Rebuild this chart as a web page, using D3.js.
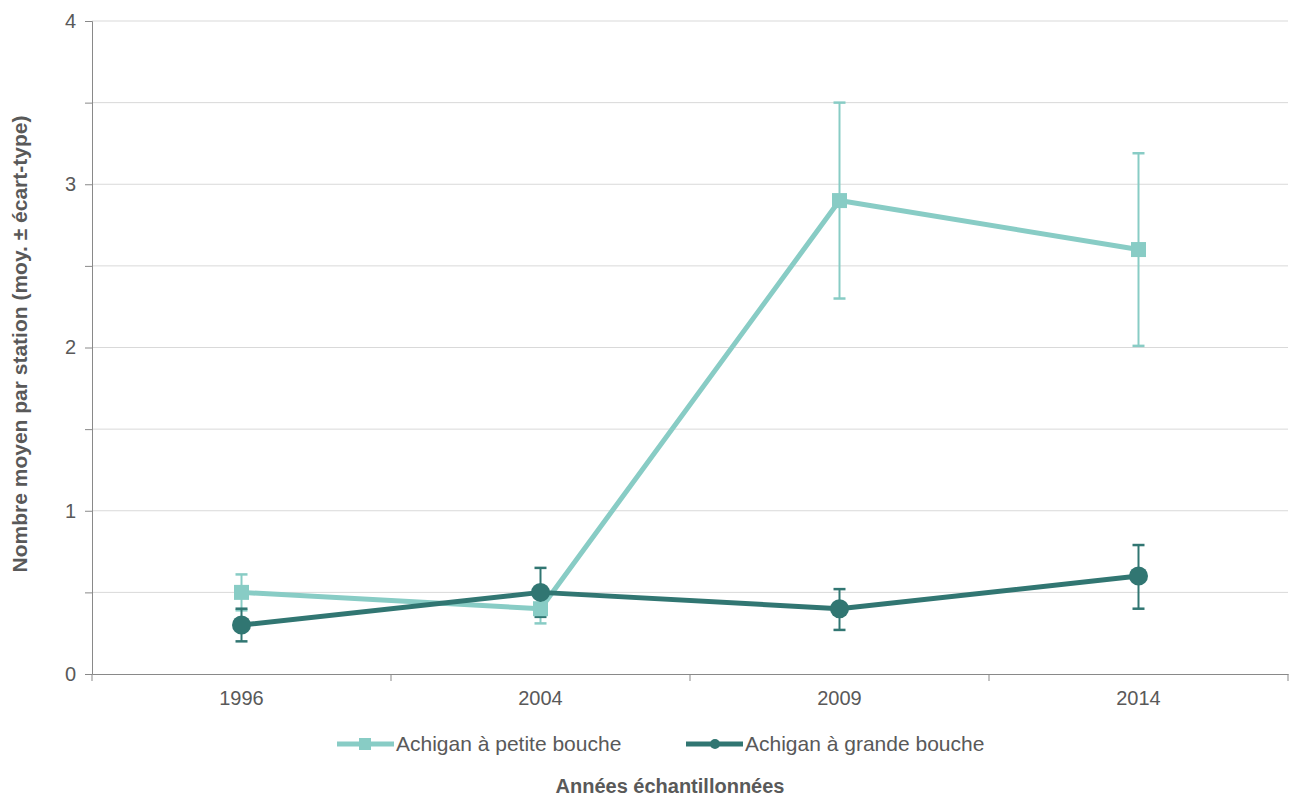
<!DOCTYPE html>
<html>
<head>
<meta charset="utf-8">
<script src="https://cdn.jsdelivr.net/npm/d3@7"></script>
<style>
  body { margin: 0; background: #fff; }
  svg { font-family: "Liberation Sans", Arial, sans-serif; }
</style>
</head>
<body>
<svg id="chart" width="1290" height="796"></svg>
<script>
// data
var years = ["1996", "2004", "2009", "2014"]
var smallMean = [0.5, 0.4, 2.9, 2.6]
var smallLow = [0.39, 0.31, 2.3, 2.01]
var smallHigh = [0.61, 0.49, 3.5, 3.19]
var largeMean = [0.3, 0.5, 0.4, 0.6]
var largeLow = [0.2, 0.35, 0.27, 0.4]
var largeHigh = [0.4, 0.65, 0.52, 0.79]
var yTicks = [0, 1, 2, 3, 4]
var gridTicks = [0.5, 1, 1.5, 2, 2.5, 3, 3.5, 4]

var lightColor = "#88ccc5"
var darkColor = "#317672"
var textColor = "#595959"

var svg = d3.select("#chart")
var plotLeft = 92, plotRight = 1288, plotTop = 21, plotBottom = 674

var x = d3.scaleBand().domain(years).range([plotLeft, plotRight])
var y = d3.scaleLinear().domain([0, 4]).range([plotBottom, plotTop])
var cx = function (d) { return x(d) + x.bandwidth() / 2 }

// gridlines
svg.append("g").selectAll("line").data(gridTicks).enter().append("line")
    .attr("x1", plotLeft).attr("x2", plotRight)
    .attr("y1", d => y(d)).attr("y2", d => y(d))
    .attr("stroke", "#d9d9d9").attr("stroke-width", 1)

// y axis
var yAxis = svg.append("g").attr("transform", "translate(" + plotLeft + ",0)")
    .call(d3.axisLeft(y).tickValues(d3.range(0, 4.01, 0.5)).tickSize(7)
        .tickFormat(d => yTicks.includes(d) ? d : ""))
yAxis.select(".domain").attr("stroke", "#898989")
yAxis.selectAll(".tick line").attr("stroke", "#898989")
yAxis.selectAll(".tick text").attr("fill", textColor).style("font-size", "20px").attr("dx", "-6")

// x axis
var xAxis = svg.append("g").attr("transform", "translate(0," + plotBottom + ")")
    .call(d3.axisBottom(x).tickSize(0).tickPadding(17))
xAxis.select(".domain").attr("stroke", "#898989")
xAxis.selectAll(".tick text").attr("fill", textColor).style("font-size", "20px")
// boundary ticks between categories
svg.append("g").selectAll("line").data(d3.range(years.length + 1)).enter().append("line")
    .attr("x1", i => plotLeft + i * x.step()).attr("x2", i => plotLeft + i * x.step())
    .attr("y1", plotBottom).attr("y2", plotBottom + 7)
    .attr("stroke", "#898989")

function drawErrors(low, high, color) {
    var g = svg.append("g")
    years.forEach(function (yr, i) {
        g.append("line").attr("x1", cx(yr)).attr("x2", cx(yr))
            .attr("y1", y(low[i])).attr("y2", y(high[i]))
            .attr("stroke", color).attr("stroke-width", 2)
        ;[low[i], high[i]].forEach(function (v) {
            g.append("line").attr("x1", cx(yr) - 6).attr("x2", cx(yr) + 6)
                .attr("y1", y(v)).attr("y2", y(v))
                .attr("stroke", color).attr("stroke-width", 2.5)
        })
    })
}

function drawLine(vals, color) {
    var line = d3.line().x((d, i) => cx(years[i])).y(d => y(d))
    svg.append("path").datum(vals).attr("d", line)
        .attr("fill", "none").attr("stroke", color).attr("stroke-width", 5)
        .attr("stroke-linejoin", "round")
}

drawErrors(smallLow, smallHigh, lightColor)
drawErrors(largeLow, largeHigh, darkColor)
drawLine(smallMean, lightColor)
svg.append("g").selectAll("rect").data(smallMean).enter().append("rect")
    .attr("x", (d, i) => cx(years[i]) - 7.5).attr("y", d => y(d) - 7.5)
    .attr("width", 15).attr("height", 15).attr("fill", lightColor)
drawLine(largeMean, darkColor)
svg.append("g").selectAll("circle").data(largeMean).enter().append("circle")
    .attr("cx", (d, i) => cx(years[i])).attr("cy", d => y(d))
    .attr("r", 9.5).attr("fill", darkColor)

// legend
var legend = [
    { name: "Achigan à petite bouche", color: lightColor, shape: "square", x: 337 },
    { name: "Achigan à grande bouche", color: darkColor, shape: "circle", x: 686 }
]
legend.forEach(function (l) {
    var g = svg.append("g").attr("transform", "translate(" + l.x + ",744)")
    g.append("line").attr("x1", 0).attr("x2", 57).attr("stroke", l.color).attr("stroke-width", 5)
    if (l.shape == "square") g.append("rect").attr("x", 22).attr("y", -6).attr("width", 12).attr("height", 12).attr("fill", l.color)
    else g.append("circle").attr("cx", 29).attr("r", 5).attr("fill", l.color)
    g.append("text").attr("x", 59).attr("y", 7).attr("fill", textColor)
        .style("font-size", "21px").text(l.name)
})

// axis titles
svg.append("text").attr("x", 670).attr("y", 793).attr("text-anchor", "middle")
    .attr("fill", textColor).style("font-size", "20px").style("font-weight", "bold")
    .text("Années échantillonnées")
svg.append("text").attr("transform", "translate(27,344) rotate(-90)").attr("text-anchor", "middle")
    .attr("fill", textColor).style("font-size", "21px").style("font-weight", "bold")
    .text("Nombre moyen par station (moy. ± écart-type)")
</script>
</body>
</html>
